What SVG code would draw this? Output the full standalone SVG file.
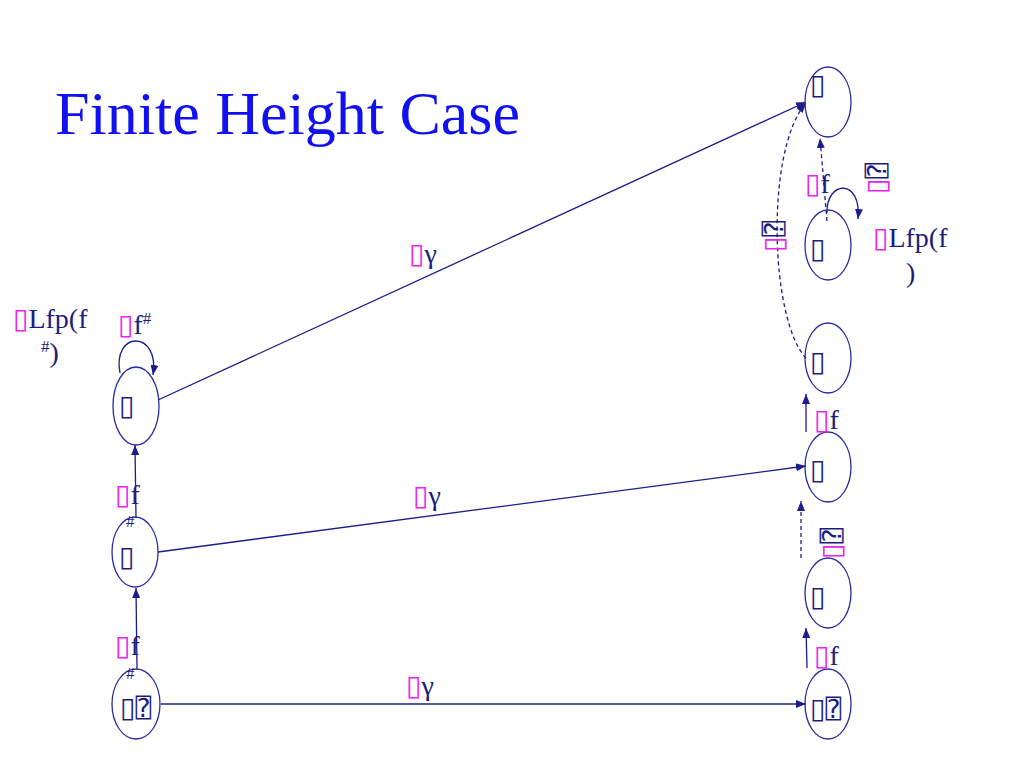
<svg xmlns="http://www.w3.org/2000/svg" width="1024" height="768" viewBox="0 0 1024 768">
<style>
.node{fill:none;stroke:#2a2aa0;stroke-width:1.3}
.ln{fill:none;stroke:#1c1c8c;stroke-width:1.3}
.dash{stroke-dasharray:4 3}
.t{font-family:"Liberation Serif","Times New Roman",serif;font-size:28px;fill:#1c1c80}
.p{fill:#ee22ee}
.b{font-family:"DejaVu Sans",sans-serif}
.q{font-family:"DejaVu Sans Mono","DejaVu Sans",monospace;font-size:26px}
.sup{font-size:17px}
.title{font-family:"Liberation Serif","Times New Roman",serif;font-size:62px;fill:#1010f0}
</style>
<defs>
<marker id="ah" viewBox="0 0 10 8" refX="10" refY="4" markerWidth="10" markerHeight="8" markerUnits="userSpaceOnUse" orient="auto">
<path d="M0,0 L10,4 L0,8 Z" fill="#1c1c8c"/>
</marker>
</defs>
<rect width="1024" height="768" fill="#ffffff"/>
<text class="title" x="55" y="134">Finite Height Case</text>

<g id="connectors">
<line class="ln" x1="158" y1="400" x2="806" y2="102" marker-end="url(#ah)"/>
<line class="ln" x1="158" y1="552" x2="806" y2="466" marker-end="url(#ah)"/>
<line class="ln" x1="161" y1="704" x2="806" y2="704" marker-end="url(#ah)"/>
<line class="ln" x1="137" y1="669" x2="136" y2="588" marker-end="url(#ah)"/>
<line class="ln" x1="136" y1="518" x2="135" y2="445" marker-end="url(#ah)"/>
<path class="ln" d="M120,373 C112,330 160,330 153,375" marker-end="url(#ah)"/>
<line class="ln" x1="807" y1="668" x2="806" y2="628" marker-end="url(#ah)"/>
<line class="ln dash" x1="801" y1="558" x2="801" y2="501" marker-end="url(#ah)"/>
<line class="ln" x1="806" y1="432" x2="806" y2="394" marker-end="url(#ah)"/>
<path class="ln dash" d="M806,358 C770,320 765,150 806,103" marker-end="url(#ah)"/>
<line class="ln dash" x1="827" y1="221" x2="820" y2="138" marker-end="url(#ah)"/>
<path class="ln" d="M827,213 C826,180 862,178 858,219" marker-end="url(#ah)"/>
</g>

<g id="n-left-top"><ellipse class="node" cx="136" cy="406" rx="23" ry="39"/><text class="t b" x="119" y="415">▯</text></g>
<g id="n-left-mid"><ellipse class="node" cx="135" cy="552" rx="23" ry="35"/><text class="t b" x="119" y="566">▯</text></g>
<g id="n-left-bot"><ellipse class="node" cx="136" cy="704" rx="24" ry="35"/><text class="t" x="120" y="717"><tspan class="b">▯</tspan><tspan class="q">&#x2370;</tspan></text></g>
<g id="n-right-1"><ellipse class="node" cx="828" cy="102" rx="23" ry="35"/><text class="t b" x="810" y="94">▯</text></g>
<g id="n-right-2"><ellipse class="node" cx="828" cy="245" rx="23" ry="35"/><text class="t b" x="810" y="258">▯</text></g>
<g id="n-right-3"><ellipse class="node" cx="828" cy="358" rx="23" ry="35"/><text class="t b" x="810" y="371">▯</text></g>
<g id="n-right-4"><ellipse class="node" cx="828" cy="467" rx="23" ry="35"/><text class="t b" x="810" y="479">▯</text></g>
<g id="n-right-5"><ellipse class="node" cx="828" cy="593" rx="23" ry="35"/><text class="t b" x="810" y="606">▯</text></g>
<g id="n-right-6"><ellipse class="node" cx="828" cy="704" rx="23" ry="35"/><text class="t" x="810" y="718"><tspan class="b">▯</tspan><tspan class="q">&#x2370;</tspan></text></g>

<g id="labels">
<text class="t" x="409" y="263"><tspan class="p b">▯</tspan>γ</text>
<text class="t" x="413" y="505"><tspan class="p b">▯</tspan>γ</text>
<text class="t" x="406" y="695"><tspan class="p b">▯</tspan>γ</text>
<text class="t" x="118" y="334"><tspan class="p b">▯</tspan>f<tspan class="sup" dy="-10">#</tspan></text>
<text class="t" x="13" y="328"><tspan class="p b">▯</tspan>Lfp(f</text>
<text class="t" x="41" y="362"><tspan class="sup" dy="-10">#</tspan><tspan dy="10">)</tspan></text>
<text class="t" x="115" y="504"><tspan class="p b">▯</tspan>f</text>
<text class="t sup" x="126" y="527">#</text>
<text class="t" x="115" y="655"><tspan class="p b">▯</tspan>f</text>
<text class="t sup" x="126" y="679">#</text>
<text class="t" x="805" y="193"><tspan class="p b">▯</tspan>f</text>
<text class="t" x="814" y="429"><tspan class="p b">▯</tspan>f</text>
<text class="t" x="814" y="665"><tspan class="p b">▯</tspan>f</text>
<text class="t" x="873" y="247"><tspan class="p b">▯</tspan>Lfp(f</text>
<text class="t" x="906" y="282">)</text>
<text class="t" transform="translate(886,194) rotate(-90)"><tspan class="p b">▯</tspan><tspan class="q">&#x2370;</tspan></text>
<text class="t" transform="translate(783,252) rotate(-90)"><tspan class="p b">▯</tspan><tspan class="q">&#x2370;</tspan></text>
<text class="t" transform="translate(841,559) rotate(-90)"><tspan class="p b">▯</tspan><tspan class="q">&#x2370;</tspan></text>
</g>
</svg>
